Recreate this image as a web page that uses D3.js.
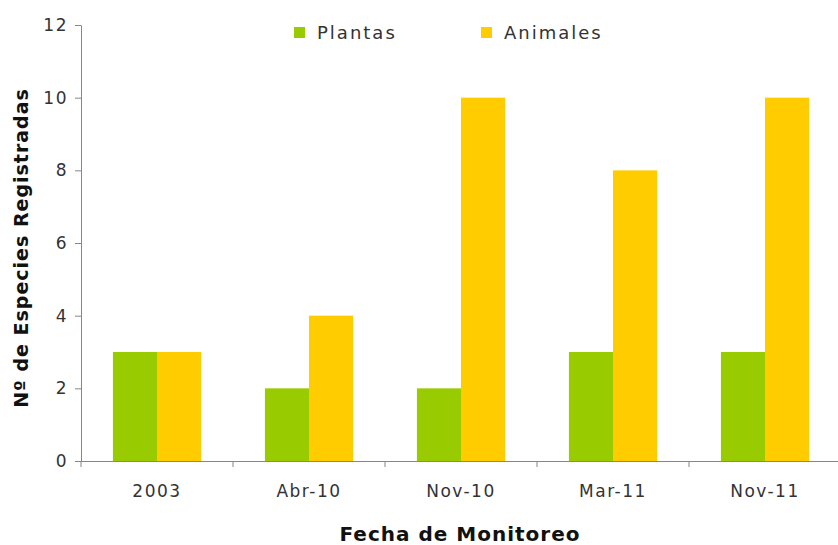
<!DOCTYPE html>
<style>
body { margin: 0; background: #fff; }
.axis text { font-family: "DejaVu Sans", Verdana, sans-serif; font-size: 17px; letter-spacing: 1.5px; fill: #333; }
.axis .domain, .axis line { stroke: #868686; }
</style>
<svg width="838" height="545"></svg>
<script src="https://d3js.org/d3.v7.min.js"></script>
<script>

var fechas = ["2003", "Abr-10", "Nov-10", "Mar-11", "Nov-11"];
var plantas = [3, 2, 2, 3, 3];
var animales = [3, 4, 10, 8, 10];
var series = ["Plantas", "Animales"];
var yTicks = [0, 2, 4, 6, 8, 10, 12];

var data = fechas.map(function(f, i) { return {fecha: f, Plantas: plantas[i], Animales: animales[i]}; });

var svg = d3.select("svg"),
    margin = {top: 25, right: -3, bottom: 84, left: 81},
    width = +svg.attr("width") - margin.left - margin.right,
    height = +svg.attr("height") - margin.top - margin.bottom,
    g = svg.append("g").attr("transform", "translate(" + margin.left + "," + margin.top + ")");

var x0 = d3.scaleBand().domain(fechas).range([0, width]).padding(0);
var bw = x0.bandwidth();
var x1 = d3.scaleBand().domain(series).range([bw * 0.21, bw * 0.79]).padding(0);
var y = d3.scaleLinear().domain([0, 12]).range([height, 0]);
var z = d3.scaleOrdinal().domain(series).range(["#99cc00", "#ffcc00"]);

g.append("g")
  .selectAll("g")
  .data(data)
  .enter().append("g")
    .attr("transform", function(d) { return "translate(" + x0(d.fecha) + ",0)"; })
  .selectAll("rect")
  .data(function(d) { return series.map(function(k) { return {key: k, value: d[k]}; }); })
  .enter().append("rect")
    .attr("x", function(d) { return x1(d.key); })
    .attr("y", function(d) { return y(d.value); })
    .attr("width", x1.bandwidth())
    .attr("height", function(d) { return height - y(d.value); })
    .attr("fill", function(d) { return z(d.key); });

// y axis
g.append("g")
    .attr("class", "axis")
    .call(d3.axisLeft(y).tickValues(yTicks).tickSize(6).tickSizeOuter(0).tickPadding(7));

// x axis: ticks at band boundaries, labels at centres
var xAxis = g.append("g")
    .attr("class", "axis")
    .attr("transform", "translate(0," + height + ")");
xAxis.append("path")
    .attr("class", "domain")
    .attr("d", "M-6,0.5H" + width);
xAxis.selectAll("line.b")
  .data(fechas)
  .enter().append("line")
    .attr("x1", function(d) { return x0(d); })
    .attr("x2", function(d) { return x0(d); })
    .attr("y1", 0).attr("y2", 6);
xAxis.selectAll("text")
  .data(fechas)
  .enter().append("text")
    .attr("x", function(d) { return x0(d) + bw / 2; })
    .attr("y", 36)
    .attr("text-anchor", "middle")
    .text(function(d) { return d; });

// axis titles
svg.append("text")
    .attr("transform", "translate(28," + (margin.top + height / 2 + 5) + ") rotate(-90)")
    .attr("text-anchor", "middle")
    .attr("font-family", "DejaVu Sans, Verdana, sans-serif")
    .attr("font-weight", "bold")
    .attr("font-size", 19)
    .attr("letter-spacing", 1)
    .attr("fill", "#111")
    .text("Nº de Especies Registradas");

svg.append("text")
    .attr("x", 460)
    .attr("y", 541)
    .attr("text-anchor", "middle")
    .attr("font-family", "DejaVu Sans, Verdana, sans-serif")
    .attr("font-weight", "bold")
    .attr("font-size", 20)
    .attr("letter-spacing", 1)
    .attr("fill", "#111")
    .text("Fecha de Monitoreo");

// legend
var legX = [294, 481];
var legend = svg.append("g")
  .selectAll("g")
  .data(series)
  .enter().append("g")
    .attr("transform", function(d, i) { return "translate(" + legX[i] + ",27)"; });
legend.append("rect")
    .attr("width", 11)
    .attr("height", 11)
    .attr("fill", z);
legend.append("text")
    .attr("x", 23)
    .attr("y", 12)
    .attr("font-family", "DejaVu Sans, Verdana, sans-serif")
    .attr("font-size", 18)
    .attr("letter-spacing", 2)
    .attr("fill", "#333")
    .text(function(d) { return d; });

</script>
